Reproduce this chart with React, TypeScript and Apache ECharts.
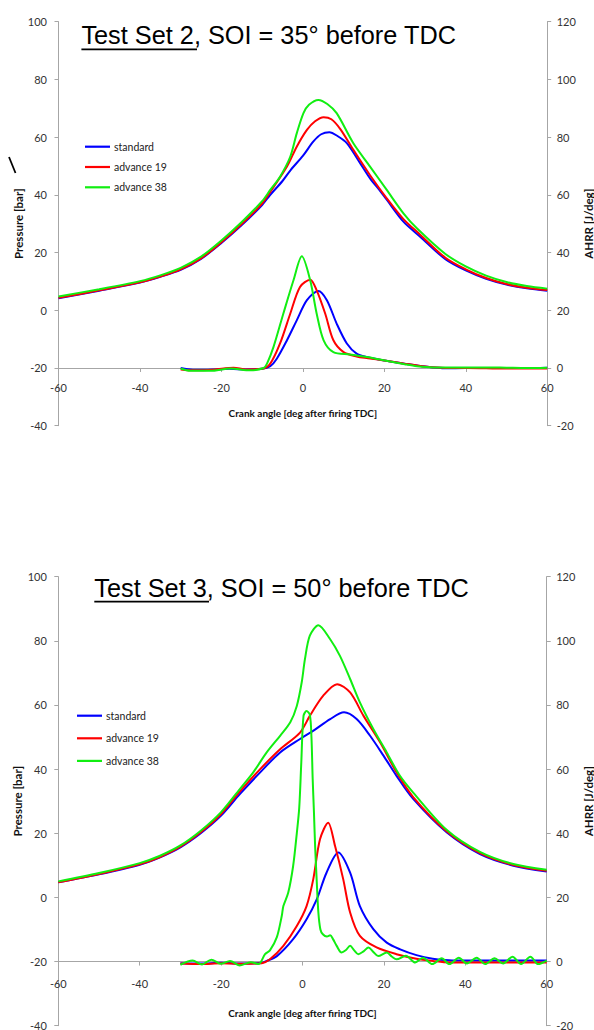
import React, { useEffect, useRef } from "react";
import * as echarts from "echarts";

// ---------- data ----------
const seriesNames = ["standard", "advance 19", "advance 38"];
const seriesColors = ["#0000ff", "#ff0000", "#11ee11"];
const angleTicks = { min: -60, max: 60, step: 20 };
const pressureTicks = { min: -40, max: 100, step: 20 };
const ahrrTicks = { min: -20, max: 120, step: 20 };

const titles = ["Test Set 2", "Test Set 3"];
const titleRest = [", SOI = 35° before TDC", ", SOI = 50° before TDC"];

// Test Set 2 — cylinder pressure [bar]
const set2StdPressAngle = [-60, -50, -40, -35, -30, -25, -20, -15, -10, -8, -5, -3, 0, 2.6, 4.5, 6.5, 8.5, 10.8, 14.1, 16.5, 19, 20.6, 24.7, 28.8, 35, 40, 45, 50, 55, 60];
const set2StdPress = [4.2, 6.8, 9.6, 11.6, 14.0, 17.8, 23.3, 29.5, 36.5, 40.0, 44.8, 48.6, 53.5, 58.5, 61.0, 61.7, 60.4, 57.9, 50.9, 45.7, 41.3, 38.3, 30.7, 25.5, 17.7, 13.8, 10.9, 8.9, 7.6, 6.8];
const set2Adv19PressAngle = [-60, -50, -40, -35, -30, -25, -20, -15, -10, -8, -3.9, -1.5, 1, 3, 5.1, 7, 9.2, 12.4, 16.5, 20.6, 24.7, 28.8, 35, 40, 45, 50, 55, 60];
const set2Adv19Press = [4.3, 6.9, 9.7, 11.7, 14.2, 18.0, 23.6, 29.9, 37.0, 41.0, 49.8, 56.7, 62.5, 65.5, 66.9, 66.2, 62.8, 55.6, 46.8, 38.8, 31.6, 26.2, 18.2, 14.2, 11.2, 9.1, 7.8, 7.0];
const set2Adv38PressAngle = [-60, -50, -40, -35, -30, -25, -20, -15, -10, -8, -5.6, -3.1, -1.5, 0.15, 1.5, 3.8, 6, 8.3, 12.4, 16.5, 20.6, 24.7, 28, 35, 40, 45, 50, 55, 60];
const set2Adv38Press = [4.8, 7.3, 10.1, 12.1, 14.7, 18.6, 24.2, 30.6, 37.8, 41.7, 46.3, 53.2, 61.3, 68.3, 71.2, 72.9, 71.5, 68.3, 57.9, 49.8, 41.7, 33.6, 28.4, 19.5, 15.2, 12.0, 9.8, 8.4, 7.5];

// Test Set 2 — apparent heat release rate [J/deg]
const set2StdHrrAngle = [-30, -27, -22, -18, -14, -10, -8, -6.4, -3.9, -1.5, 1, 3.8, 5.9, 8.3, 10.8, 13.2, 15.7, 20, 25, 30, 35, 40, 45, 50, 55, 60];
const set2StdHrr = [0, -0.6, -0.5, -0.3, -0.5, -0.3, 0.6, 3.2, 9.6, 16.5, 23.5, 26.7, 23.5, 15.4, 8.5, 5.0, 3.8, 2.6, 1.5, 0.5, -0.1, 0, 0, 0, 0, 0.1];
const set2Adv19HrrAngle = [-30, -27, -22, -17, -14, -10, -8, -5.6, -3.1, -0.7, 1.8, 3.4, 5.5, 7.5, 10, 13.2, 16, 20, 25, 30, 35, 40, 45, 50, 55, 60];
const set2Adv19Hrr = [-0.5, -0.8, -0.6, 0.1, -0.5, -0.3, 1.5, 8.5, 18.8, 28.1, 30.6, 26.9, 18.8, 9.6, 5.5, 4.0, 3.4, 2.6, 1.5, 0.5, 0, 0, -0.1, -0.2, -0.2, -0.2];
const set2Adv38HrrAngle = [-30, -27.6, -22.7, -17.8, -12.9, -9.6, -8.8, -7.2, -4.8, -2.3, -0.25, 1.8, 3.4, 5.1, 7.5, 11.6, 15.7, 19.8, 25, 28, 32, 40, 45, 50, 55, 60];
const set2Adv38Hrr = [-0.2, -1, -1, -0.2, -0.8, 0, 1.5, 7.3, 18.8, 30.4, 38.7, 30.4, 18.8, 9.6, 5.5, 4.7, 3.8, 2.7, 1.3, 0.6, 0.2, 0.2, 0.2, 0.1, 0, 0.1];

// Test Set 3 — cylinder pressure [bar]
const set3StdPressAngle = [-60, -50, -40, -35, -30, -25, -20, -15.4, -10.4, -5.5, -0.6, 2.7, 6.8, 10.2, 13.3, 16.6, 19.9, 23.1, 27.2, 35.4, 43.6, 51.8, 60];
const set3StdPress = [4.7, 7.2, 10.2, 12.5, 15.6, 20.0, 25.5, 32.2, 39.0, 45.2, 49.4, 52.0, 55.6, 57.7, 55.6, 50.4, 44.2, 37.9, 30.7, 20.3, 13.5, 9.9, 8.1];
const set3Adv19PressAngle = [-60, -50, -40, -35, -30, -25, -20, -15.4, -10.4, -5.5, -0.6, 1.8, 5.1, 8.5, 11.7, 15, 19.1, 23.1, 27.2, 35.4, 43.6, 51.8, 60];
const set3Adv19Press = [4.7, 7.3, 10.3, 12.6, 15.8, 20.3, 26.0, 33.0, 40.0, 46.2, 51.4, 56.6, 62.9, 66.5, 63.9, 56.6, 48.3, 39.0, 31.3, 20.6, 13.8, 10.1, 8.3];
const set3Adv38PressAngle = [-60, -50, -40, -35, -30, -25, -20, -15.4, -12.1, -8.8, -5.5, -3, -1.4, -0.2, 0.6, 1.8, 3.9, 6.8, 9.2, 11.7, 14.1, 17.4, 20.7, 23.9, 27.2, 35.4, 43.6, 51.8, 60];
const set3Adv38Press = [5.0, 7.6, 10.7, 13.0, 16.2, 20.8, 26.6, 33.8, 39.0, 45.2, 50.4, 54.6, 59.7, 67.0, 74.3, 81.6, 84.9, 80.5, 75.3, 68.1, 60.8, 52.5, 45.2, 38.0, 32.7, 21.1, 14.2, 10.4, 8.6];

// Test Set 3 — apparent heat release rate [J/deg]
const set3StdHrrAngle = [-30, -25, -20, -15, -10, -8.8, -6.3, -2.3, 1, 3.5, 5.9, 8.8, 11.7, 14.1, 17.4, 20.7, 24, 28, 32, 36, 40, 50, 60];
const set3StdHrr = [-0.5, -0.6, -0.4, -0.6, -0.4, 0.2, 1.7, 7.0, 13.2, 19.4, 27.7, 34.0, 27.7, 17.3, 10.1, 5.9, 3.8, 2.0, 0.9, 0.4, 0.3, 0.3, 0.3];
const set3Adv19HrrAngle = [-30, -25, -20, -15, -10, -8, -4.7, -1.4, 1, 2.65, 4.3, 6.3, 8, 10, 11.7, 14.1, 18.2, 23.1, 28, 32, 36, 40, 50, 60];
const set3Adv19Hrr = [-0.6, -0.8, -0.5, -0.7, -0.5, 0.7, 4.9, 11.1, 17.3, 25.7, 38.1, 43.3, 36.0, 25.7, 15.3, 8.0, 4.4, 2.3, 0.9, 0.2, -0.3, -0.3, -0.3, -0.3];
const set3Adv38HrrAngle = [-30, -27, -24.7, -22.4, -20.1, -17.8, -15.5, -12.7, -10.8, -9.2, -8, -6.3, -5.1, -4.7, -3.5, -2.3, -1.4, -0.8, -0.3, 0.25, 1.0, 1.8, 2.2, 2.5, 2.8, 3.1, 3.5, 3.9, 4.4, 5.0, 6.0, 6.8, 7.5, 8.4, 9.6, 10.6, 11.7, 12.7, 13.7, 15, 16.2, 17.4, 18.6, 20.7, 22, 23.1, 25.4, 27.7, 29.6, 31.9, 34.2, 36.1, 38.4, 40.4, 42.8, 44.9, 47.2, 49.3, 51.6, 53.7, 56, 57.9, 60];
const set3Adv38Hrr = [-1.0, 0.3, -0.9, 0.6, -0.7, 0.2, -1.2, -0.2, -0.8, 2.3, 3.5, 7.6, 14.2, 17.3, 21.5, 29.8, 40.0, 48.0, 62.0, 76.6, 78.1, 77.0, 70.0, 57.0, 47.0, 36.0, 25.0, 15.3, 10.0, 8.5, 7.8, 8.2, 7.0, 4.9, 2.8, 3.5, 4.9, 3.5, 2.3, 3.2, 4.4, 3.0, 1.7, 2.8, 1.5, 0.7, 1.8, -0.3, 1.2, -0.8, 1.0, -0.8, 1.2, -0.6, 1.2, -0.8, 1.0, -0.6, 1.5, -0.8, 1.5, -0.8, 0.3];

// ---------- helpers ----------
const zip = (a: number[], v: number[]) => a.map((x, i) => [x, v[i]]);
const FONT = "Lato";
const AXIS_GRAY = "#a6a6a6";
const LABEL_COLOR = "#333333";

type Panel = {
  grid: { left: number; top: number; width: number; height: number };
  press: [number[], number[]][];
  hrr: [number[], number[]][];
  labelMarginX: number;
  nameGapX: number;
  nameGapLeft: number;
  nameGapRight: number;
  legend: { left: number; top: number; gap: number };
  title: { x: number; y: number; ulEnd: number; ulY: number };
};

const panels: Panel[] = [
  {
    grid: { left: 58.5, top: 21.7, width: 488.7, height: 404 },
    press: [
      [set2StdPressAngle, set2StdPress],
      [set2Adv19PressAngle, set2Adv19Press],
      [set2Adv38PressAngle, set2Adv38Press],
    ],
    hrr: [
      [set2StdHrrAngle, set2StdHrr],
      [set2Adv19HrrAngle, set2Adv19Hrr],
      [set2Adv38HrrAngle, set2Adv38Hrr],
    ],
    labelMarginX: 14,
    nameGapX: 40,
    nameGapLeft: 40.5,
    nameGapRight: 41,
    legend: { left: 85, top: 140.7, gap: 8.3 },
    title: { x: 81.4, y: 35.3, ulEnd: 197, ulY: 49.3 },
  },
  {
    grid: { left: 58.3, top: 576.7, width: 488.4, height: 449 },
    press: [
      [set3StdPressAngle, set3StdPress],
      [set3Adv19PressAngle, set3Adv19Press],
      [set3Adv38PressAngle, set3Adv38Press],
    ],
    hrr: [
      [set3StdHrrAngle, set3StdHrr],
      [set3Adv19HrrAngle, set3Adv19Hrr],
      [set3Adv38HrrAngle, set3Adv38Hrr],
    ],
    labelMarginX: 16,
    nameGapX: 46,
    nameGapLeft: 41,
    nameGapRight: 41.3,
    legend: { left: 77, top: 709.7, gap: 10.6 },
    title: { x: 94.3, y: 588, ulEnd: 209, ulY: 601.7 },
  },
];

function buildOption() {
  const grids: any[] = [];
  const xAxes: any[] = [];
  const yAxes: any[] = [];
  const series: any[] = [];
  const legends: any[] = [];
  const graphics: any[] = [];

  panels.forEach((p, gi) => {
    grids.push({ ...p.grid, containLabel: false, outerBoundsMode: "none" });
    const leftIdx = yAxes.length;
    const rightIdx = leftIdx + 1;
    const axisLine = { show: true, onZero: false, lineStyle: { color: AXIS_GRAY, width: 1 } };
    const axisTick = { show: true, length: 4, lineStyle: { color: AXIS_GRAY } };
    // the angle axis crosses the AHRR axis at its zero
    const xOffset = -p.grid.height * (0 - ahrrTicks.min) / (ahrrTicks.max - ahrrTicks.min);
    xAxes.push({
      type: "value",
      gridIndex: gi,
      position: "bottom",
      offset: xOffset,
      min: angleTicks.min,
      max: angleTicks.max,
      interval: angleTicks.step,
      axisLine,
      axisTick: { ...axisTick, inside: false },
      splitLine: { show: false },
      axisLabel: { color: LABEL_COLOR, fontFamily: FONT, fontSize: 11, margin: p.labelMarginX },
      name: "Crank angle [deg after firing TDC]",
      nameLocation: "middle",
      nameGap: p.nameGapX,
      nameMoveOverlap: false,
      nameTextStyle: { fontFamily: FONT, fontWeight: "bold", fontSize: 10, color: "#111" },
    });
    yAxes.push({
      type: "value",
      gridIndex: gi,
      position: "left",
      min: pressureTicks.min,
      max: pressureTicks.max,
      interval: pressureTicks.step,
      axisLine,
      axisTick,
      splitLine: { show: false },
      axisLabel: { color: LABEL_COLOR, fontFamily: FONT, fontSize: 11, margin: 11.5 },
      name: "Pressure [bar]",
      nameLocation: "middle",
      nameRotate: 90,
      nameGap: p.nameGapLeft,
      nameMoveOverlap: false,
      nameTextStyle: { fontFamily: FONT, fontWeight: "bold", fontSize: 11.5, color: "#111", verticalAlign: "middle" },
    });
    yAxes.push({
      type: "value",
      gridIndex: gi,
      position: "right",
      min: ahrrTicks.min,
      max: ahrrTicks.max,
      interval: ahrrTicks.step,
      axisLine,
      axisTick,
      splitLine: { show: false },
      axisLabel: { color: LABEL_COLOR, fontFamily: FONT, fontSize: 11, margin: 9.5 },
      name: "AHRR [J/deg]",
      nameLocation: "middle",
      nameRotate: 90,
      nameGap: p.nameGapRight,
      nameMoveOverlap: false,
      nameTextStyle: { fontFamily: FONT, fontWeight: "bold", fontSize: 11.5, color: "#111", verticalAlign: "middle" },
    });

    const mk = (name: string, color: string, data: number[][], yi: number, z: number) => ({
      type: "line",
      name,
      data,
      xAxisIndex: gi,
      yAxisIndex: yi,
      showSymbol: false,
      symbol: "none",
      smooth: 0.3,
      lineStyle: { color, width: 2 },
      itemStyle: { color },
      emphasis: { disabled: true },
      z,
    });
    p.press.forEach(([a, v], i) => series.push(mk(seriesNames[i], seriesColors[i], zip(a, v), leftIdx, 2 + i)));
    p.hrr.forEach(([a, v], i) => series.push(mk(seriesNames[i], seriesColors[i], zip(a, v), rightIdx, 2 + i)));

    legends.push({
      orient: "vertical",
      left: p.legend.left,
      top: p.legend.top,
      icon: "rect",
      itemWidth: 25,
      itemHeight: 2.2,
      itemGap: p.legend.gap,
      padding: 0,
      selectedMode: false,
      data: seriesNames,
      textStyle: { fontFamily: FONT, fontSize: 10.5, lineHeight: 12, color: "#222", padding: [0, 0, 0, -1] },
    });

    graphics.push({
      type: "text",
      x: p.title.x,
      y: p.title.y,
      style: {
        text: titles[gi] + titleRest[gi],
        fontFamily: "Liberation Sans",
        fontSize: 25.3,
        fill: "#000",
        align: "left",
        verticalAlign: "middle",
      },
    });
    graphics.push({
      type: "line",
      shape: { x1: p.title.x, y1: p.title.ulY, x2: p.title.ulEnd, y2: p.title.ulY },
      style: { stroke: "#000", lineWidth: 1.8 },
    });
  });

  // stray stroke left of the first chart's axis title
  graphics.push({
    type: "line",
    shape: { x1: 9, y1: 157, x2: 15.5, y2: 173 },
    style: { stroke: "#000", lineWidth: 1.8 },
  });

  return {
    animation: false,
    backgroundColor: "#ffffff",
    textStyle: { fontFamily: FONT },
    grid: grids,
    xAxis: xAxes,
    yAxis: yAxes,
    legend: legends,
    series,
    graphic: graphics,
  };
}

export default function App() {
  const ref = useRef<HTMLDivElement>(null);
  useEffect(() => {
    if (!ref.current) return;
    const chart = echarts.init(ref.current, undefined, { renderer: "svg" });
    chart.setOption(buildOption() as any);
    return () => chart.dispose();
  }, []);
  return (
    <div
      ref={ref}
      style={{ position: "absolute", left: 0, top: 0, width: 594, height: 1030, background: "#fff" }}
    />
  );
}
